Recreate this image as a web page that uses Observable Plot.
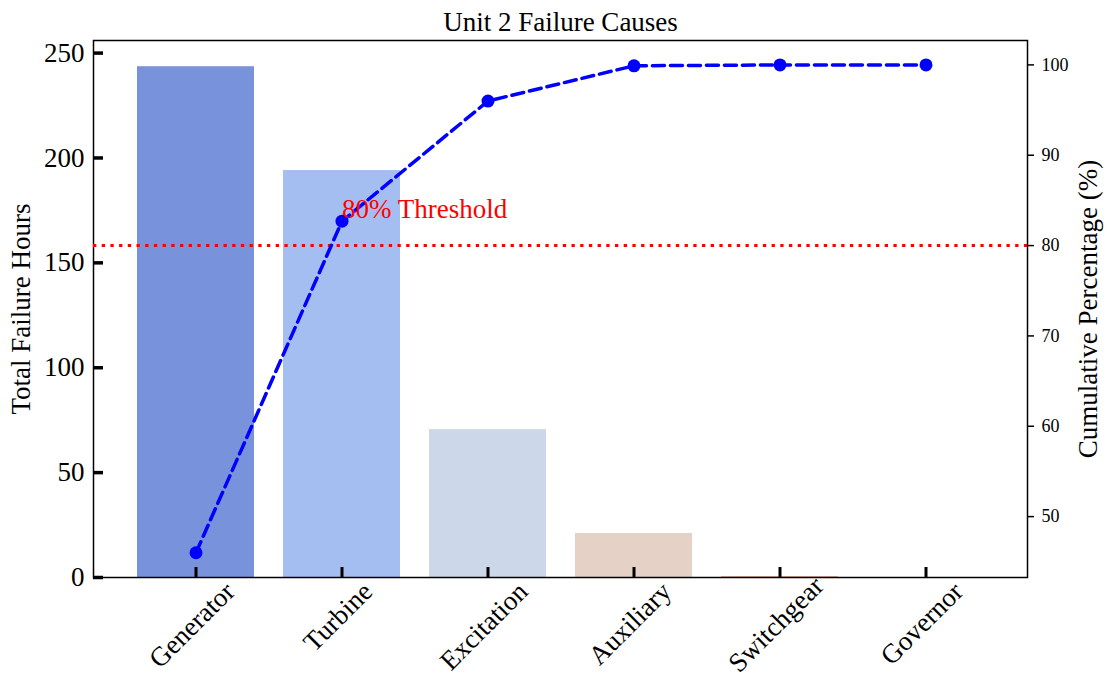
<!DOCTYPE html>
<html>
<head>
<meta charset="utf-8">
<script src="https://cdn.jsdelivr.net/npm/d3@7"></script>
<script src="https://cdn.jsdelivr.net/npm/@observablehq/plot@0.6"></script>
<style>
html, body { margin: 0; padding: 0; background: #fff; }
#chart { position: relative; width: 1109px; height: 681px; }
#chart svg { position: absolute; left: 0; top: 0; }
</style>
</head>
<body>
<div id="chart"></div>
<script>
// ---- data ----
const categories = ["Generator", "Turbine", "Excitation", "Auxiliary", "Switchgear", "Governor"];
const hours = [243.5, 194, 70.5, 21, 0.4, 0];
const cumulativePct = [46.0, 82.7, 96.0, 99.9, 100, 100];
const barColors = ["#7892db", "#a5bef1", "#ccd8ea", "#e6d1c6", "#e3a58e", "#d0735c"];
const threshold = 80;
const thresholdLabel = "80% Threshold";
const thresholdAnchor = "Turbine";
const leftTicks = [0, 50, 100, 150, 200, 250];
const rightTicks = [50, 60, 70, 80, 90, 100];
const leftDomain = [0, 256];
const rightDomain = [43.26, 102.7];
const title = "Unit 2 Failure Causes";
const yLabelLeft = "Total Failure Hours";
const yLabelRight = "Cumulative Percentage (%)";

// ---- layout ----
const W = 1109, H = 681;
const margins = { marginLeft: 93, marginRight: 82, marginTop: 40, marginBottom: 104 };
const font = '"Liberation Serif", "Times New Roman", Times, serif';
const xOpts = { type: "band", domain: categories, paddingInner: 0.2, paddingOuter: 0.29, align: 0.5 };
const bigFont = 27;

const ctx = document.createElement("canvas").getContext("2d");
const xFont = 27;
ctx.font = `${xFont}px ${font}`;
const tw = s => ctx.measureText(s).width;
const halfDiag = s => (tw(s) + 0.7 * xFont) * Math.SQRT1_2 / 2;
const boxHalf = s => (tw(s) + 1.15 * xFont) * Math.SQRT1_2 / 2;
const labelDy = s => Math.min(3 + halfDiag(s), margins.marginBottom - 3 - boxHalf(s));

const barData = categories.map((c, i) => ({ cat: c, hours: hours[i], color: barColors[i] }));
const cumData = categories.map((c, i) => ({ cat: c, pct: cumulativePct[i] }));

const xLabelMarks = categories.map(c =>
  Plot.text([c], {
    x: d => d, text: d => d, frameAnchor: "bottom", rotate: -45,
    textAnchor: "middle", lineAnchor: "middle",
    dx: -4, dy: labelDy(c), fontSize: xFont, fill: "#000"
  })
);

const p1 = Plot.plot({
  width: W, height: H, ...margins,
  style: { fontFamily: font, background: "transparent", color: "#000" },
  x: xOpts,
  y: { domain: leftDomain },
  color: { type: "identity" },
  marks: [
    Plot.barY(barData, { x: "cat", y: "hours", fill: "color" }),
    Plot.frame({ stroke: "#000", strokeWidth: 1.5 }),
    Plot.axisY(leftTicks, { tickSize: -10, strokeWidth: 3.5, fill: "none", label: null }),
    Plot.axisY(leftTicks, { tickSize: 0, tickPadding: 9, fontSize: bigFont, label: null }),
    Plot.axisX(categories, { tickSize: -10, strokeWidth: 3, fill: "none", label: null }),
    ...xLabelMarks,
    Plot.text([title], { text: d => d, frameAnchor: "top", textAnchor: "middle", lineAnchor: "middle", dy: -18, fontSize: bigFont, fill: "#000" }),
    Plot.text([yLabelLeft], { text: d => d, frameAnchor: "left", textAnchor: "middle", lineAnchor: "middle", rotate: -90, dx: -72, fontSize: bigFont, fill: "#000" })
  ]
});

const p2 = Plot.plot({
  width: W, height: H, ...margins,
  style: { fontFamily: font, background: "transparent", color: "#000" },
  x: { ...xOpts, axis: null },
  y: { domain: rightDomain },
  marks: [
    Plot.ruleY([threshold], { stroke: "#ff0000", strokeWidth: 3, strokeDasharray: "3.3,5.4" }),
    Plot.line(cumData, { x: "cat", y: "pct", stroke: "#0000ff", strokeWidth: 3.5, strokeDasharray: "12,6" }),
    Plot.dot(cumData, { x: "cat", y: "pct", r: 6.5, fill: "#0000ff" }),
    Plot.text([{ cat: thresholdAnchor, v: threshold, label: thresholdLabel }], {
      x: "cat", y: "v", text: "label", textAnchor: "start", lineAnchor: "middle", dy: -36, fontSize: bigFont, fill: "#ff0000"
    }),
    Plot.axisY(rightTicks, { anchor: "right", tickSize: 6, strokeWidth: 1.5, fill: "none", label: null }),
    Plot.axisY(rightTicks, { anchor: "right", tickSize: 0, tickPadding: 14, fontSize: 18, label: null }),
    Plot.text([yLabelRight], { text: d => d, frameAnchor: "right", textAnchor: "middle", lineAnchor: "middle", rotate: -90, dx: 61, fontSize: bigFont, fill: "#000" })
  ]
});

const chart = document.getElementById("chart");
chart.appendChild(p1);
chart.appendChild(p2);
</script>
</body>
</html>
